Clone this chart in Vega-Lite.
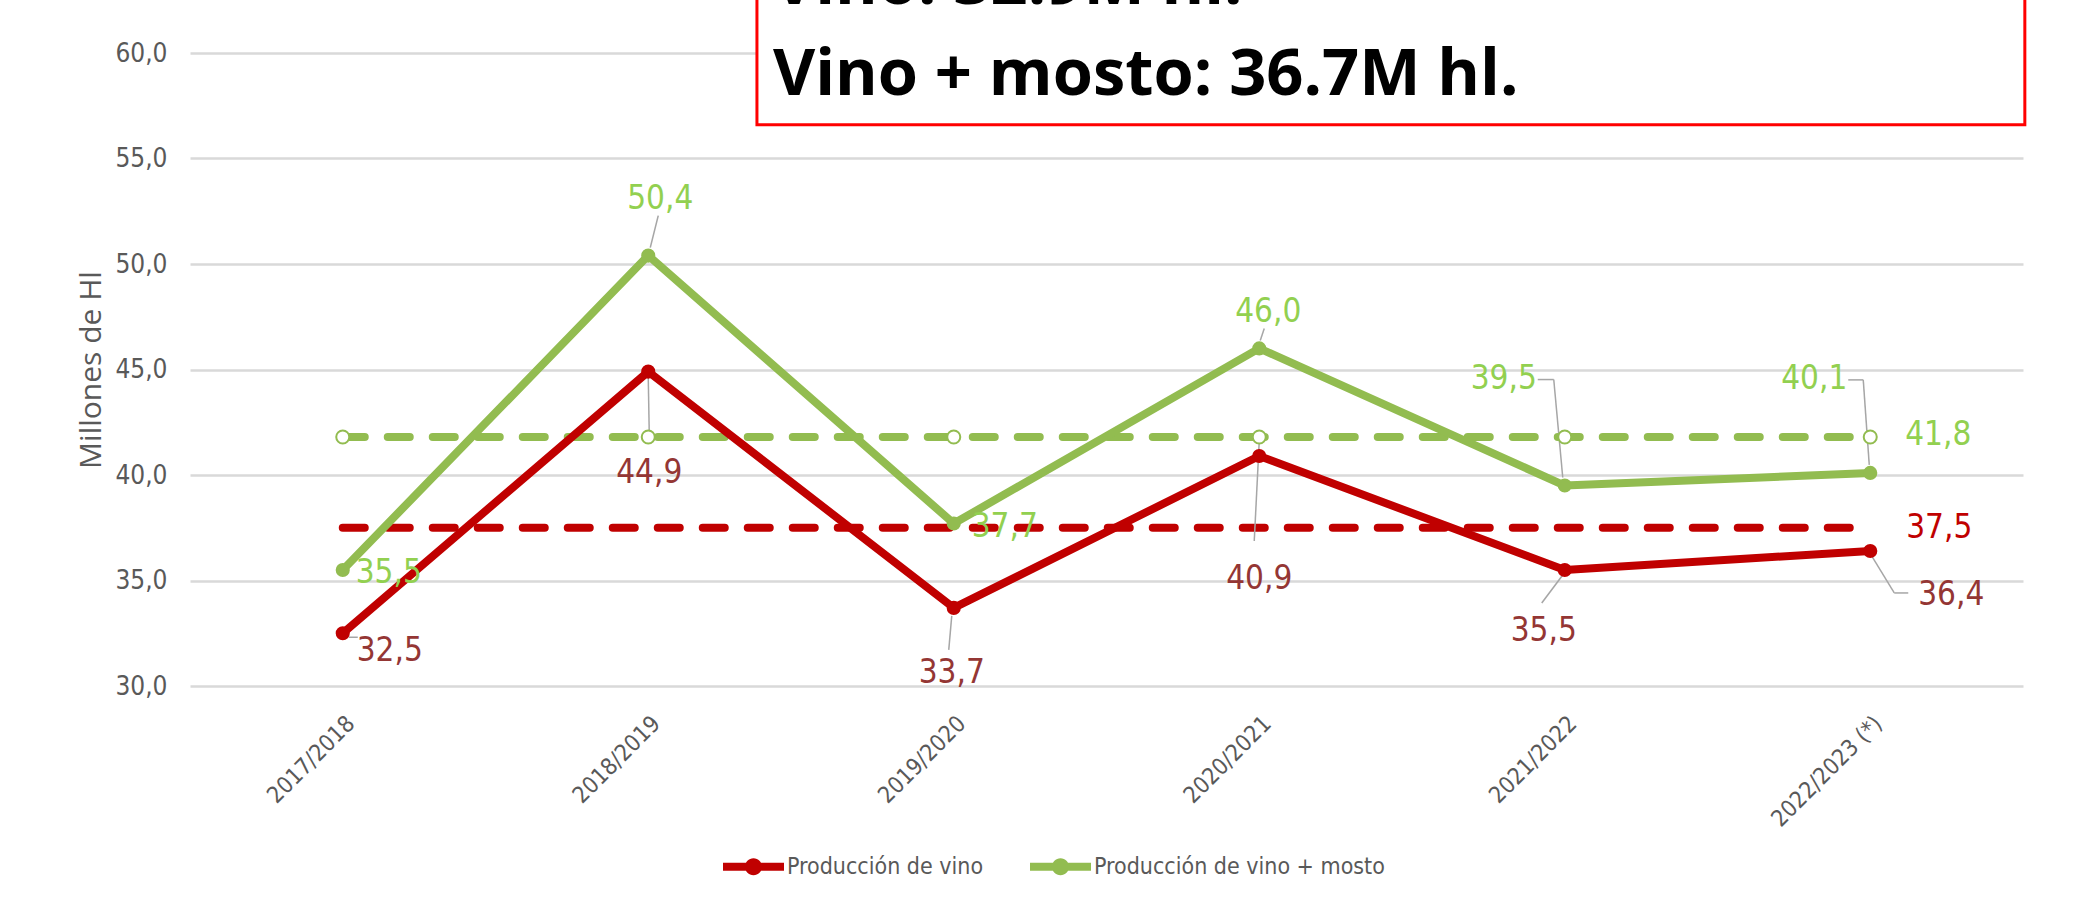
{
  "$schema": "https://vega.github.io/schema/vega-lite/v6.json",
  "width": 1833,
  "height": 633,
  "autosize": {"type": "none"},
  "padding": {"left": 190, "top": 53, "right": 55, "bottom": 227},
  "background": "white",
  "config": {
    "view": {"stroke": null},
    "font": "DejaVu Sans Condensed, Roboto, sans-serif",
    "locale": {"number": {"decimal": ",", "thousands": ".", "grouping": [3], "currency": ["", " €"]}}
  },
  "datasets": {
    "prod": [
      {"campana": "2017/2018", "serie": "Producción de vino", "valor": 32.5},
      {"campana": "2018/2019", "serie": "Producción de vino", "valor": 44.9},
      {"campana": "2019/2020", "serie": "Producción de vino", "valor": 33.7},
      {"campana": "2020/2021", "serie": "Producción de vino", "valor": 40.9},
      {"campana": "2021/2022", "serie": "Producción de vino", "valor": 35.5},
      {"campana": "2022/2023 (*)", "serie": "Producción de vino", "valor": 36.4},
      {"campana": "2017/2018", "serie": "Producción de vino + mosto", "valor": 35.5},
      {"campana": "2018/2019", "serie": "Producción de vino + mosto", "valor": 50.4},
      {"campana": "2019/2020", "serie": "Producción de vino + mosto", "valor": 37.7},
      {"campana": "2020/2021", "serie": "Producción de vino + mosto", "valor": 46.0},
      {"campana": "2021/2022", "serie": "Producción de vino + mosto", "valor": 39.5},
      {"campana": "2022/2023 (*)", "serie": "Producción de vino + mosto", "valor": 40.1}
    ],
    "media": [
      {"campana": "2017/2018", "serie": "Media vino", "valor": 37.5},
      {"campana": "2018/2019", "serie": "Media vino", "valor": 37.5},
      {"campana": "2019/2020", "serie": "Media vino", "valor": 37.5},
      {"campana": "2020/2021", "serie": "Media vino", "valor": 37.5},
      {"campana": "2021/2022", "serie": "Media vino", "valor": 37.5},
      {"campana": "2022/2023 (*)", "serie": "Media vino", "valor": 37.5},
      {"campana": "2017/2018", "serie": "Media vino + mosto", "valor": 41.8},
      {"campana": "2018/2019", "serie": "Media vino + mosto", "valor": 41.8},
      {"campana": "2019/2020", "serie": "Media vino + mosto", "valor": 41.8},
      {"campana": "2020/2021", "serie": "Media vino + mosto", "valor": 41.8},
      {"campana": "2021/2022", "serie": "Media vino + mosto", "valor": 41.8},
      {"campana": "2022/2023 (*)", "serie": "Media vino + mosto", "valor": 41.8}
    ],
    "recuadro": [
      {"linea1": "Vino: 32.9M hl.", "linea2": "Vino + mosto: 36.7M hl."}
    ]
  },
  "resolve": {"scale": {"x": "independent"}},
  "layer": [
    {
      "encoding": {
        "x": {
          "field": "campana", "type": "ordinal", "sort": null,
          "scale": {"type": "point", "padding": 0.5,
            "domain": ["2017/2018", "2018/2019", "2019/2020", "2020/2021", "2021/2022", "2022/2023 (*)"]},
          "axis": {"title": null, "labelAngle": -45, "labelFontSize": 23, "labelColor": "#595959",
            "labelPadding": 26, "ticks": false, "domain": false, "grid": false}
        },
        "y": {
          "field": "valor", "type": "quantitative",
          "scale": {"domain": [30, 60], "nice": false, "zero": false},
          "axis": {"title": "Millones de Hl", "titleFont": "Open Sans", "titleFontWeight": "normal",
            "titleFontSize": 30, "titleColor": "#595959", "titlePadding": 8,
            "values": [30, 35, 40, 45, 50, 55, 60], "format": ".1f",
            "labelFontSize": 26, "labelColor": "#595959", "labelPadding": 23,
            "ticks": false, "domain": false, "grid": true, "gridColor": "#D9D9D9", "gridWidth": 2.5}
        }
      },
      "layer": [
        {"data": {"name": "media"}, "transform": [{"filter": "datum.serie == 'Media vino + mosto'"}],
         "mark": {"type": "line", "color": "#92BC50", "strokeWidth": 8, "strokeDash": [22, 23], "strokeCap": "round"}},
        {"data": {"name": "media"}, "transform": [{"filter": "datum.serie == 'Media vino'"}],
         "mark": {"type": "line", "color": "#C00000", "strokeWidth": 8, "strokeDash": [22, 23], "strokeCap": "round"}},

        {"data": {"name": "prod"}, "transform": [{"filter": "datum.serie == 'Producción de vino + mosto' && datum.campana == '2018/2019'"}],
         "mark": {"type": "rule", "color": "#A6A6A6", "strokeWidth": 1.5, "xOffset": 2, "yOffset": -8, "x2Offset": 10, "y2Offset": -40},
         "encoding": {"x2": {"field": "campana"}, "y2": {"field": "valor"}}},
        {"data": {"name": "prod"}, "transform": [{"filter": "datum.serie == 'Producción de vino + mosto' && datum.campana == '2020/2021'"}],
         "mark": {"type": "rule", "color": "#A6A6A6", "strokeWidth": 1.5, "xOffset": 1, "yOffset": -8, "x2Offset": 5, "y2Offset": -20},
         "encoding": {"x2": {"field": "campana"}, "y2": {"field": "valor"}}},
        {"data": {"name": "prod"}, "transform": [{"filter": "datum.serie == 'Producción de vino + mosto' && datum.campana == '2021/2022'"}],
         "mark": {"type": "rule", "color": "#A6A6A6", "strokeWidth": 1.5, "xOffset": -27, "yOffset": -106, "x2Offset": -11, "y2Offset": -106},
         "encoding": {"x2": {"field": "campana"}, "y2": {"field": "valor"}}},
        {"data": {"name": "prod"}, "transform": [{"filter": "datum.serie == 'Producción de vino + mosto' && datum.campana == '2021/2022'"}],
         "mark": {"type": "rule", "color": "#A6A6A6", "strokeWidth": 1.5, "xOffset": -11, "yOffset": -106, "x2Offset": -2, "y2Offset": -8},
         "encoding": {"x2": {"field": "campana"}, "y2": {"field": "valor"}}},
        {"data": {"name": "prod"}, "transform": [{"filter": "datum.serie == 'Producción de vino + mosto' && datum.campana == '2022/2023 (*)'"}],
         "mark": {"type": "rule", "color": "#A6A6A6", "strokeWidth": 1.5, "xOffset": -22, "yOffset": -93, "x2Offset": -7, "y2Offset": -93},
         "encoding": {"x2": {"field": "campana"}, "y2": {"field": "valor"}}},
        {"data": {"name": "prod"}, "transform": [{"filter": "datum.serie == 'Producción de vino + mosto' && datum.campana == '2022/2023 (*)'"}],
         "mark": {"type": "rule", "color": "#A6A6A6", "strokeWidth": 1.5, "xOffset": -7, "yOffset": -93, "x2Offset": -1, "y2Offset": -8},
         "encoding": {"x2": {"field": "campana"}, "y2": {"field": "valor"}}},
        {"data": {"name": "prod"}, "transform": [{"filter": "datum.serie == 'Producción de vino' && datum.campana == '2017/2018'"}],
         "mark": {"type": "rule", "color": "#A6A6A6", "strokeWidth": 1.5, "xOffset": 6, "yOffset": 4, "x2Offset": 15, "y2Offset": 4},
         "encoding": {"x2": {"field": "campana"}, "y2": {"field": "valor"}}},
        {"data": {"name": "prod"}, "transform": [{"filter": "datum.serie == 'Producción de vino' && datum.campana == '2018/2019'"}],
         "mark": {"type": "rule", "color": "#A6A6A6", "strokeWidth": 1.5, "xOffset": 0, "yOffset": 6, "x2Offset": 1, "y2Offset": 62},
         "encoding": {"x2": {"field": "campana"}, "y2": {"field": "valor"}}},
        {"data": {"name": "prod"}, "transform": [{"filter": "datum.serie == 'Producción de vino' && datum.campana == '2019/2020'"}],
         "mark": {"type": "rule", "color": "#A6A6A6", "strokeWidth": 1.5, "xOffset": -2, "yOffset": 8, "x2Offset": -5, "y2Offset": 42},
         "encoding": {"x2": {"field": "campana"}, "y2": {"field": "valor"}}},
        {"data": {"name": "prod"}, "transform": [{"filter": "datum.serie == 'Producción de vino' && datum.campana == '2020/2021'"}],
         "mark": {"type": "rule", "color": "#A6A6A6", "strokeWidth": 1.5, "xOffset": 0, "yOffset": -15, "x2Offset": -5, "y2Offset": 85},
         "encoding": {"x2": {"field": "campana"}, "y2": {"field": "valor"}}},
        {"data": {"name": "prod"}, "transform": [{"filter": "datum.serie == 'Producción de vino' && datum.campana == '2021/2022'"}],
         "mark": {"type": "rule", "color": "#A6A6A6", "strokeWidth": 1.5, "xOffset": -2, "yOffset": 5, "x2Offset": -23, "y2Offset": 33},
         "encoding": {"x2": {"field": "campana"}, "y2": {"field": "valor"}}},
        {"data": {"name": "prod"}, "transform": [{"filter": "datum.serie == 'Producción de vino' && datum.campana == '2022/2023 (*)'"}],
         "mark": {"type": "rule", "color": "#A6A6A6", "strokeWidth": 1.5, "xOffset": 2, "yOffset": 6, "x2Offset": 24, "y2Offset": 42},
         "encoding": {"x2": {"field": "campana"}, "y2": {"field": "valor"}}},
        {"data": {"name": "prod"}, "transform": [{"filter": "datum.serie == 'Producción de vino' && datum.campana == '2022/2023 (*)'"}],
         "mark": {"type": "rule", "color": "#A6A6A6", "strokeWidth": 1.5, "xOffset": 24, "yOffset": 42, "x2Offset": 38, "y2Offset": 42},
         "encoding": {"x2": {"field": "campana"}, "y2": {"field": "valor"}}},

        {"data": {"name": "media"}, "transform": [{"filter": "datum.serie == 'Media vino + mosto'"}],
         "mark": {"type": "point", "filled": false, "fill": "white", "fillOpacity": 1, "stroke": "#92BC50", "strokeWidth": 2, "size": 170, "opacity": 1}},
        {"data": {"name": "prod"},
         "mark": {"type": "line", "strokeWidth": 8, "strokeJoin": "round", "strokeCap": "round"},
         "encoding": {"color": {"field": "serie", "type": "nominal",
           "scale": {"domain": ["Producción de vino", "Producción de vino + mosto"], "range": ["#C00000", "#92BC50"]},
           "legend": {"title": null, "orient": "none", "direction": "horizontal", "legendX": 533, "legendY": 783,
             "symbolType": "M-1,-0.13H1V0.13H-1Z M0.28,0A0.28,0.28,0,1,1,-0.28,0A0.28,0.28,0,1,1,0.28,0Z",
             "symbolSize": 3721, "symbolStrokeWidth": 0, "symbolOpacity": 1, "labelLimit": 500,
             "labelFontSize": 23, "labelColor": "#595959", "labelOffset": 3, "columnPadding": 46,
             "encode": {"symbols": {"update": {"fill": {"scale": "color", "field": "value"}, "stroke": {"value": "transparent"}}}}}}}},
        {"data": {"name": "prod"},
         "mark": {"type": "point", "filled": true, "size": 200, "opacity": 1},
         "encoding": {"color": {"field": "serie", "type": "nominal"}}},

        {"data": {"name": "prod"}, "transform": [{"filter": "datum.serie == 'Producción de vino' && datum.campana == '2017/2018'"}],
         "mark": {"type": "text", "dx": 47, "dy": 18, "fontSize": 33, "color": "#943634"},
         "encoding": {"text": {"field": "valor", "type": "quantitative", "format": ".1f"}}},
        {"data": {"name": "prod"}, "transform": [{"filter": "datum.serie == 'Producción de vino' && datum.campana == '2018/2019'"}],
         "mark": {"type": "text", "dx": 1, "dy": 101, "fontSize": 33, "color": "#943634"},
         "encoding": {"text": {"field": "valor", "type": "quantitative", "format": ".1f"}}},
        {"data": {"name": "prod"}, "transform": [{"filter": "datum.serie == 'Producción de vino' && datum.campana == '2019/2020'"}],
         "mark": {"type": "text", "dx": -2, "dy": 65, "fontSize": 33, "color": "#943634"},
         "encoding": {"text": {"field": "valor", "type": "quantitative", "format": ".1f"}}},
        {"data": {"name": "prod"}, "transform": [{"filter": "datum.serie == 'Producción de vino' && datum.campana == '2020/2021'"}],
         "mark": {"type": "text", "dx": 0, "dy": 123, "fontSize": 33, "color": "#943634"},
         "encoding": {"text": {"field": "valor", "type": "quantitative", "format": ".1f"}}},
        {"data": {"name": "prod"}, "transform": [{"filter": "datum.serie == 'Producción de vino' && datum.campana == '2021/2022'"}],
         "mark": {"type": "text", "dx": -21, "dy": 61, "fontSize": 33, "color": "#943634"},
         "encoding": {"text": {"field": "valor", "type": "quantitative", "format": ".1f"}}},
        {"data": {"name": "prod"}, "transform": [{"filter": "datum.serie == 'Producción de vino' && datum.campana == '2022/2023 (*)'"}],
         "mark": {"type": "text", "dx": 81, "dy": 44, "fontSize": 33, "color": "#943634"},
         "encoding": {"text": {"field": "valor", "type": "quantitative", "format": ".1f"}}},

        {"data": {"name": "prod"}, "transform": [{"filter": "datum.serie == 'Producción de vino + mosto' && datum.campana == '2017/2018'"}],
         "mark": {"type": "text", "dx": 46, "dy": 3, "fontSize": 33, "color": "#92D050"},
         "encoding": {"text": {"field": "valor", "type": "quantitative", "format": ".1f"}}},
        {"data": {"name": "prod"}, "transform": [{"filter": "datum.serie == 'Producción de vino + mosto' && datum.campana == '2018/2019'"}],
         "mark": {"type": "text", "dx": 12, "dy": -57, "fontSize": 33, "color": "#92D050"},
         "encoding": {"text": {"field": "valor", "type": "quantitative", "format": ".1f"}}},
        {"data": {"name": "prod"}, "transform": [{"filter": "datum.serie == 'Producción de vino + mosto' && datum.campana == '2019/2020'"}],
         "mark": {"type": "text", "dx": 51, "dy": 3, "fontSize": 33, "color": "#92D050"},
         "encoding": {"text": {"field": "valor", "type": "quantitative", "format": ".1f"}}},
        {"data": {"name": "prod"}, "transform": [{"filter": "datum.serie == 'Producción de vino + mosto' && datum.campana == '2020/2021'"}],
         "mark": {"type": "text", "dx": 9, "dy": -36, "fontSize": 33, "color": "#92D050"},
         "encoding": {"text": {"field": "valor", "type": "quantitative", "format": ".1f"}}},
        {"data": {"name": "prod"}, "transform": [{"filter": "datum.serie == 'Producción de vino + mosto' && datum.campana == '2021/2022'"}],
         "mark": {"type": "text", "dx": -61, "dy": -107, "fontSize": 33, "color": "#92D050"},
         "encoding": {"text": {"field": "valor", "type": "quantitative", "format": ".1f"}}},
        {"data": {"name": "prod"}, "transform": [{"filter": "datum.serie == 'Producción de vino + mosto' && datum.campana == '2022/2023 (*)'"}],
         "mark": {"type": "text", "dx": -56, "dy": -94, "fontSize": 33, "color": "#92D050"},
         "encoding": {"text": {"field": "valor", "type": "quantitative", "format": ".1f"}}},

        {"data": {"name": "media"}, "transform": [{"filter": "datum.serie == 'Media vino + mosto' && datum.campana == '2022/2023 (*)'"}],
         "mark": {"type": "text", "dx": 68, "dy": -2, "fontSize": 33, "color": "#92D050"},
         "encoding": {"text": {"field": "valor", "type": "quantitative", "format": ".1f"}}},
        {"data": {"name": "media"}, "transform": [{"filter": "datum.serie == 'Media vino' && datum.campana == '2022/2023 (*)'"}],
         "mark": {"type": "text", "dx": 69, "dy": 0, "fontSize": 33, "color": "#C00000"},
         "encoding": {"text": {"field": "valor", "type": "quantitative", "format": ".1f"}}}
      ]
    },
    {
      "data": {"name": "recuadro"},
      "layer": [
        {"mark": {"type": "rect", "fill": "white", "stroke": "#FF0000", "strokeWidth": 3},
         "encoding": {
           "x": {"datum": 0.3093, "type": "quantitative", "scale": {"domain": [0, 1]}, "axis": null},
           "x2": {"datum": 1.001},
           "y": {"datum": 56.6, "type": "quantitative", "scale": {"domain": [30, 60], "nice": false, "zero": false}},
           "y2": {"datum": 64}
         }},
        {"mark": {"type": "text", "align": "left", "baseline": "alphabetic", "font": "Open Sans", "fontWeight": "bold", "fontSize": 65, "color": "black"},
         "encoding": {
           "x": {"datum": 0.318, "type": "quantitative", "scale": {"domain": [0, 1]}, "axis": null},
           "y": {"datum": 62.3, "type": "quantitative", "scale": {"domain": [30, 60], "nice": false, "zero": false}},
           "text": {"field": "linea1"}
         }},
        {"mark": {"type": "text", "align": "left", "baseline": "alphabetic", "font": "Open Sans", "fontWeight": "bold", "fontSize": 65, "color": "black"},
         "encoding": {
           "x": {"datum": 0.318, "type": "quantitative", "scale": {"domain": [0, 1]}, "axis": null},
           "y": {"datum": 58.01, "type": "quantitative", "scale": {"domain": [30, 60], "nice": false, "zero": false}},
           "text": {"field": "linea2"}
         }}
      ]
    }
  ]
}
